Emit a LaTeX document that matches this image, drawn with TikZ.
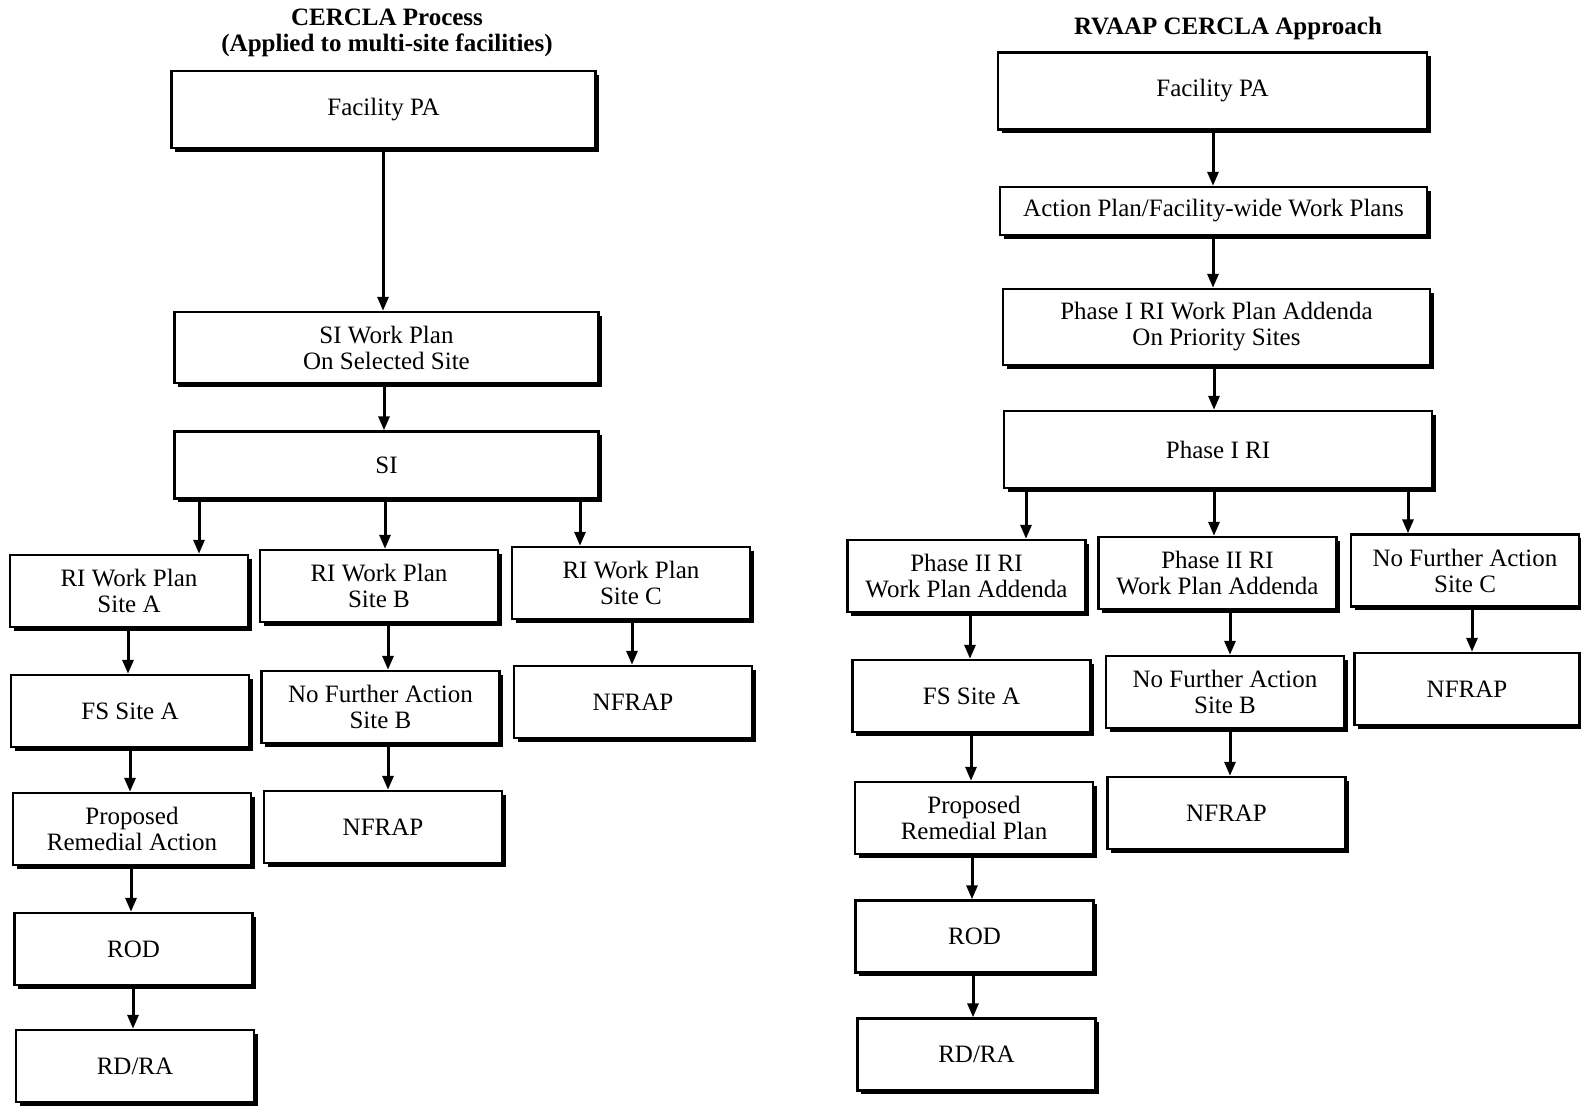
\documentclass[tikz,border=0pt]{standalone}
\usepackage{fontspec}
\setmainfont{Liberation Serif}
\usetikzlibrary{arrows.meta, shadows}

\begin{document}
\begin{tikzpicture}[
    x=0.5pt, y=-0.5pt,
    box/.style={draw, line width=1.2pt, fill=white, align=center, inner sep=2pt, minimum height=36pt, font=\fontsize{12.5}{13}\selectfont, drop shadow={shadow xshift=1.8pt, shadow yshift=-1.8pt, fill=black, opacity=1}},
    wide/.style={box, minimum width=212pt},
    narrow/.style={box, minimum width=119pt},
    heading/.style={align=center, font=\bfseries\fontsize{12.5}{13}\selectfont},
    arrow/.style={-{Triangle[length=7pt, width=5.5pt]}, line width=1.5pt}
]
    \useasboundingbox (0,0) rectangle (1581,1105);

    % Headings
    \node[heading] (titleL) at (387,33) {CERCLA Process\\(Applied to multi-site facilities)};
    \node[heading] (titleR) at (1228,28) {RVAAP CERCLA Approach};

    % Entities: CERCLA process
    \node[wide, minimum height=38.5pt] (fpaL) at (383.5,109.5) {Facility PA};
    \node[wide, minimum height=35.5pt] (siwp) at (386.5,347.5) {SI Work Plan\\On Selected Site};
    \node[wide, minimum height=33.5pt] (si) at (386.5,465) {SI};
    \node[narrow] (riA) at (129,591) {RI Work Plan\\Site A};
    \node[narrow] (riB) at (379,586) {RI Work Plan\\Site B};
    \node[narrow] (riC) at (631,583) {RI Work Plan\\Site C};
    \node[narrow] (fsA) at (130,711) {FS Site A};
    \node[narrow] (nfaB) at (380.5,707) {No Further Action\\Site B};
    \node[narrow] (nfrapC) at (633,702) {NFRAP};
    \node[narrow] (pra) at (132,829) {Proposed\\Remedial Action};
    \node[narrow] (nfrapB) at (383,827) {NFRAP};
    \node[narrow] (rod) at (133.5,949) {ROD};
    \node[narrow] (rdra) at (135,1066) {RD/RA};

    % Entities: RVAAP approach
    \node[wide, minimum width=214.5pt, minimum height=38.5pt] (fpaR) at (1212.5,91) {Facility PA};
    \node[wide, minimum width=213.5pt, minimum height=24pt] (ap) at (1213.5,211) {Action Plan/Facility-wide Work Plans};
    \node[wide, minimum width=213.5pt, minimum height=38pt] (p1wp) at (1216.5,327) {Phase I RI Work Plan Addenda\\On Priority Sites};
    \node[wide, minimum width=214pt, minimum height=38.5pt] (p1ri) at (1218,449.5) {Phase I RI};
    \node[narrow] (p2A) at (966.5,576) {Phase II RI\\Work Plan Addenda};
    \node[narrow] (p2B) at (1217.5,573) {Phase II RI\\Work Plan Addenda};
    \node[narrow, minimum width=114pt] (nfaC) at (1465,570.5) {No Further Action\\Site C};
    \node[narrow] (fsAR) at (971.5,696) {FS Site A};
    \node[narrow] (nfaBR) at (1225,692) {No Further Action\\Site B};
    \node[narrow, minimum width=112.5pt] (nfrapCR) at (1467,689) {NFRAP};
    \node[narrow] (prp) at (974,818) {Proposed\\Remedial Plan};
    \node[narrow] (nfrapBR) at (1226.5,813) {NFRAP};
    \node[narrow] (rodR) at (974.5,936.5) {ROD};
    \node[narrow] (rdraR) at (976.5,1054.5) {RD/RA};

    % Relationships: CERCLA process
    \draw[arrow] (fpaL.south -| 383,0) -- (siwp.north -| 383,0);
    \draw[arrow] (siwp.south -| 384,0) -- (si.north -| 384,0);
    \draw[arrow] (si.south -| 199,0) -- (riA.north -| 199,0);
    \draw[arrow] (si.south -| 385,0) -- (riB.north -| 385,0);
    \draw[arrow] (si.south -| 580,0) -- (riC.north -| 580,0);
    \draw[arrow] (riA.south -| 128,0) -- (fsA.north -| 128,0);
    \draw[arrow] (riB.south -| 388,0) -- (nfaB.north -| 388,0);
    \draw[arrow] (riC.south -| 632,0) -- (nfrapC.north -| 632,0);
    \draw[arrow] (fsA.south -| 130,0) -- (pra.north -| 130,0);
    \draw[arrow] (nfaB.south -| 388,0) -- (nfrapB.north -| 388,0);
    \draw[arrow] (pra.south -| 131,0) -- (rod.north -| 131,0);
    \draw[arrow] (rod.south -| 133,0) -- (rdra.north -| 133,0);

    % Relationships: RVAAP approach
    \draw[arrow] (fpaR.south -| 1213,0) -- (ap.north -| 1213,0);
    \draw[arrow] (ap.south -| 1213,0) -- (p1wp.north -| 1213,0);
    \draw[arrow] (p1wp.south -| 1214,0) -- (p1ri.north -| 1214,0);
    \draw[arrow] (p1ri.south -| 1026,0) -- (p2A.north -| 1026,0);
    \draw[arrow] (p1ri.south -| 1214,0) -- (p2B.north -| 1214,0);
    \draw[arrow] (p1ri.south -| 1408,0) -- (nfaC.north -| 1408,0);
    \draw[arrow] (p2A.south -| 970,0) -- (fsAR.north -| 970,0);
    \draw[arrow] (p2B.south -| 1230,0) -- (nfaBR.north -| 1230,0);
    \draw[arrow] (nfaC.south -| 1472,0) -- (nfrapCR.north -| 1472,0);
    \draw[arrow] (fsAR.south -| 971,0) -- (prp.north -| 971,0);
    \draw[arrow] (nfaBR.south -| 1230,0) -- (nfrapBR.north -| 1230,0);
    \draw[arrow] (prp.south -| 972,0) -- (rodR.north -| 972,0);
    \draw[arrow] (rodR.south -| 973,0) -- (rdraR.north -| 973,0);
\end{tikzpicture}
\end{document}
